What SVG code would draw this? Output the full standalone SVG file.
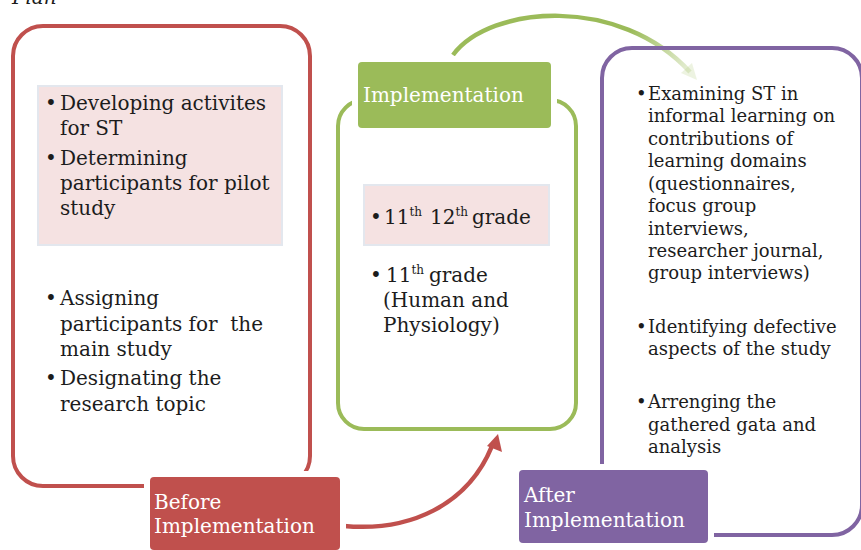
<svg xmlns="http://www.w3.org/2000/svg" width="861" height="550" viewBox="0 0 861 550">
<defs>
<style>
.t{font-family:"DejaVu Serif","Liberation Serif",serif;fill:#1c1c1c;font-size:20px}
.s{font-family:"DejaVu Serif","Liberation Serif",serif;fill:#1c1c1c;font-size:18px}
.lab{font-family:"DejaVu Serif","Liberation Serif",serif;fill:#ffffff;font-size:20px}
.sup{font-size:12px}
.box{fill:none;stroke-width:4}
.hl{fill:#F5E2E2;stroke:#E3E7EE;stroke-width:2}
.halo{fill:#ffffff}
</style>
<linearGradient id="fade" gradientUnits="userSpaceOnUse" x1="630" y1="30" x2="695" y2="78">
<stop offset="0" stop-color="#9BBB59" stop-opacity="1"/>
<stop offset="1" stop-color="#9BBB59" stop-opacity="0.15"/>
</linearGradient>
</defs>
<rect width="861" height="550" fill="#ffffff"/>
<text x="12" y="4" class="t" font-style="italic" font-size="22">Plan</text>

<g id="connectors">
<path d="M453 55 C490 5 620 -5 690 72" fill="none" stroke="url(#fade)" stroke-width="4.5"/>
<polygon points="697,80 681,73 692,63" fill="#9BBB59" fill-opacity="0.18"/>
<path d="M344 526 C410 532 468 505 492 446" fill="none" stroke="#C0504D" stroke-width="4.5"/>
<polygon points="498,434 502,452 487,446" fill="#C0504D"/>
</g>

<g id="before-box">
<rect x="13" y="26" width="297" height="460" rx="30" class="box" stroke="#C0504D"/>
<rect x="38" y="86" width="244" height="159" class="hl"/>
<text class="t"><tspan x="45" y="110">•</tspan><tspan x="60" y="110">Developing activites</tspan><tspan x="60" y="135">for ST</tspan></text>
<text class="t"><tspan x="45" y="165">•</tspan><tspan x="60" y="165">Determining</tspan><tspan x="60" y="190">participants for pilot</tspan><tspan x="60" y="215">study</tspan></text>
<text class="t" xml:space="preserve"><tspan x="45" y="305">•</tspan><tspan x="60" y="305">Assigning</tspan><tspan x="60" y="331">participants for  the</tspan><tspan x="60" y="356">main study</tspan></text>
<text class="t"><tspan x="45" y="385">•</tspan><tspan x="60" y="385">Designating the</tspan><tspan x="60" y="411">research topic</tspan></text>
</g>

<g id="impl-box">
<rect x="338" y="100" width="238" height="329" rx="26" class="box" stroke="#9BBB59"/>
<rect x="364" y="185" width="185" height="60" class="hl"/>
<text class="t"><tspan x="370" y="224">•</tspan><tspan x="384" y="224">11</tspan><tspan class="sup" dy="-8">th</tspan><tspan x="430" dy="8">12</tspan><tspan class="sup" dy="-8">th</tspan><tspan x="472" dy="8">grade</tspan></text>
<text class="t"><tspan x="370" y="282">•</tspan><tspan x="386" y="282">11</tspan><tspan class="sup" dy="-8">th</tspan><tspan x="429" dy="8">grade</tspan><tspan x="383" y="307">(Human and</tspan><tspan x="383" y="332">Physiology)</tspan></text>
</g>

<g id="after-box">
<rect x="602" y="48" width="260" height="487" rx="30" class="box" stroke="#8064A2"/>
<text class="s"><tspan x="636" y="100">•</tspan><tspan x="648" y="100">Examining ST in</tspan><tspan x="648" y="122">informal learning on</tspan><tspan x="648" y="145">contributions of</tspan><tspan x="648" y="167">learning domains</tspan><tspan x="648" y="190">(questionnaires,</tspan><tspan x="648" y="212">focus group</tspan><tspan x="648" y="235">interviews,</tspan><tspan x="648" y="257">researcher journal,</tspan><tspan x="648" y="279">group interviews)</tspan></text>
<text class="s"><tspan x="636" y="333">•</tspan><tspan x="648" y="333">Identifying defective</tspan><tspan x="648" y="355">aspects of the study</tspan></text>
<text class="s"><tspan x="636" y="408">•</tspan><tspan x="648" y="408">Arrenging the</tspan><tspan x="648" y="431">gathered gata and</tspan><tspan x="648" y="453">analysis</tspan></text>
</g>

<g id="impl-label">
<rect x="352" y="56" width="205" height="78" rx="6" class="halo"/>
<rect x="358" y="62" width="193" height="66" rx="4" fill="#9BBB59"/>
<text x="363" y="102" class="lab">Implementation</text>
</g>

<g id="before-label">
<rect x="144" y="471" width="202" height="85" rx="6" class="halo"/>
<rect x="150" y="477" width="190" height="73" rx="4" fill="#C0504D"/>
<text class="lab"><tspan x="154" y="509">Before</tspan><tspan x="154" y="533">Implementation</tspan></text>
</g>

<g id="after-label">
<rect x="513" y="464" width="201" height="85" rx="6" class="halo"/>
<rect x="519" y="470" width="189" height="73" rx="4" fill="#8064A2"/>
<text class="lab"><tspan x="524" y="502">After</tspan><tspan x="524" y="527">Implementation</tspan></text>
</g>
</svg>
